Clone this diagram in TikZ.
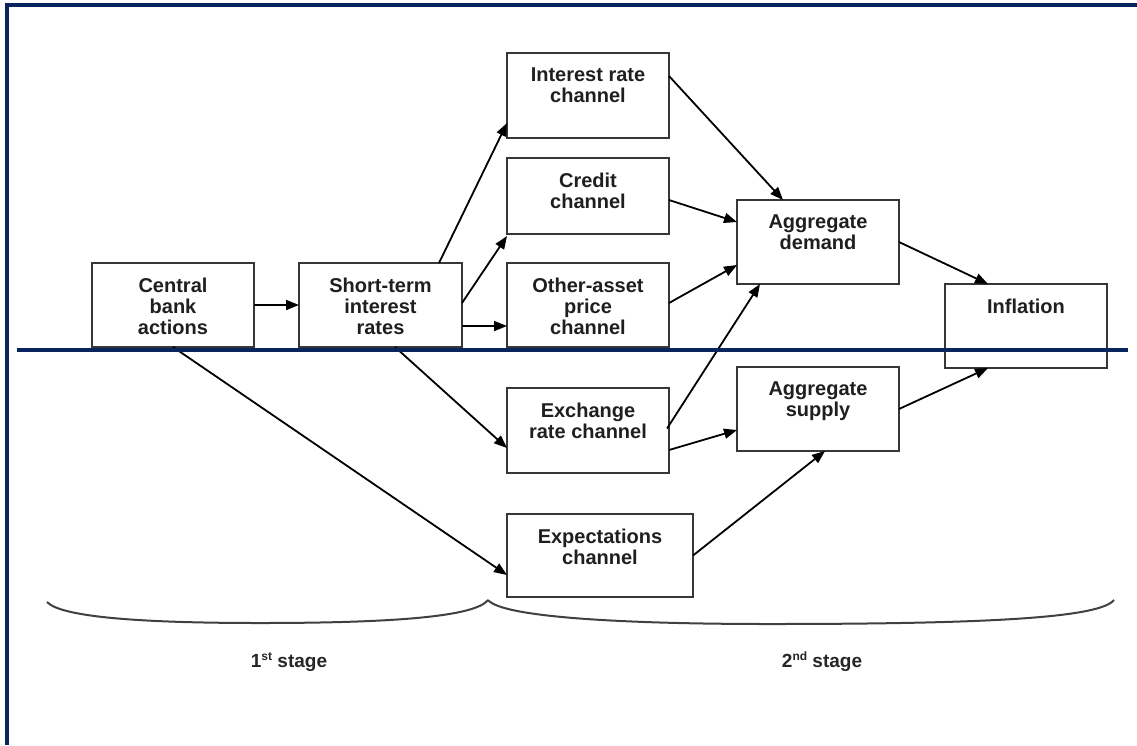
\documentclass[tikz,border=0pt]{standalone}
\usepackage{fontspec}
\setmainfont{Liberation Sans}
\usetikzlibrary{arrows.meta,calc}
\definecolor{navy}{RGB}{10,36,96}
\definecolor{boxline}{RGB}{55,55,55}
\begin{document}
\begin{tikzpicture}[x=1pt,y=-1pt,
  box/.style={draw=boxline, line width=2pt, minimum width=162pt, minimum height=84pt, inner sep=0pt, outer sep=0pt},
  lbl/.style={anchor=north, yshift=-14.5pt, align=center, inner sep=0pt, font=\fontsize{20}{21}\selectfont\bfseries, text=black!88, execute at begin node=\strut},
  arr/.style={line width=1.8pt, -{Triangle[length=13pt,width=10pt]}},
  sep/.style={navy, line width=4pt},
  brace/.style={draw=black!75, line width=2pt},
  stagelbl/.style={font=\fontsize{19}{21}\selectfont\bfseries, text=black!85}]
\useasboundingbox (0,0) rectangle (1137,745);
\fill[white] (0,0) rectangle (1137,745);

% boxes
\node[box, label={[lbl]north:{Central\\bank\\actions}}] (cb) at (173,305) {};
\node[box, minimum width=163pt, label={[lbl]north:{Short-term\\interest\\rates}}] (st) at (380.5,305) {};
\node[box, minimum height=85pt, label={[lbl]north:{Interest rate\\channel}}] (ir) at (588,95.5) {};
\node[box, minimum height=76pt, label={[lbl]north:{Credit\\channel}}] (cr) at (588,196) {};
\node[box, label={[lbl]north:{Other-asset\\price\\channel}}] (oa) at (588,305) {};
\node[box, minimum height=85pt, label={[lbl]north:{Exchange\\rate channel}}] (ex) at (588,430.5) {};
\node[box, minimum width=186pt, minimum height=83pt, label={[lbl]north:{Expectations\\channel}}] (exp) at (600,555.5) {};
\node[box, label={[lbl]north:{Aggregate\\demand}}] (ad) at (818,242) {};
\node[box, label={[lbl]north:{Aggregate\\supply}}] (as) at (818,409) {};
\node[box, label={[lbl]north:{Inflation}}] (inf) at (1026,326) {};

% connectors
\draw[arr] (cb.east) -- (st.west);
\draw[arr] ($(st.north west)+(140,0)$) -- ($(ir.south west)+(0,-15)$);
\draw[arr] ($(st.east)+(0,-2)$) -- ($(cr.south west)+(0,2)$);
\draw[arr] ($(st.south east)+(0,-21)$) -- ($(oa.south west)+(0,-21)$);
\draw[arr] ($(st.south west)+(96,0)$) -- ($(ex.south west)+(0,-25)$);
\draw[arr] (cb.south) -- ($(exp.south west)+(0,-22)$);
\draw[arr] ($(ir.north east)+(0,23)$) -- ($(ad.north west)+(46,0)$);
\draw[arr] ($(cr.east)+(0,4)$) -- ($(ad.north west)+(0,22)$);
\draw[arr] ($(oa.east)+(0,-2)$) -- ($(ad.south west)+(0,-19)$);
\draw[arr] ($(ex.east)+(-2,-2)$) -- ($(ad.south west)+(23,0)$);
\draw[arr] ($(ex.south east)+(0,-23)$) -- ($(as.west)+(0,21)$);
\draw[arr] (exp.east) -- ($(as.south west)+(88,0)$);
\draw[arr] (ad.east) -- ($(inf.north west)+(43,0)$);
\draw[arr] (as.east) -- ($(inf.south west)+(43,0)$);

% braces
\draw[brace] (47,602) .. controls (62,618) and (150,623) .. (260,623) .. controls (390,623) and (475,617) .. (488,600);
\draw[brace] (488,600) .. controls (502,617) and (620,624) .. (770,624) .. controls (1000,624) and (1100,617) .. (1114,600);

% stage labels
\node[stagelbl] (s1) at (289,662) {1{\fontsize{12}{12}\selectfont\raisebox{7pt}{st}} stage};
\node[stagelbl] (s2) at (822,662) {2{\fontsize{12}{12}\selectfont\raisebox{7pt}{nd}} stage};

% frame lines
\draw[sep] (5,5) -- (1137,5);
\draw[sep] (7,3) -- (7,745);
\draw[sep] (17,350) -- (1128,350);
\end{tikzpicture}
\end{document}
